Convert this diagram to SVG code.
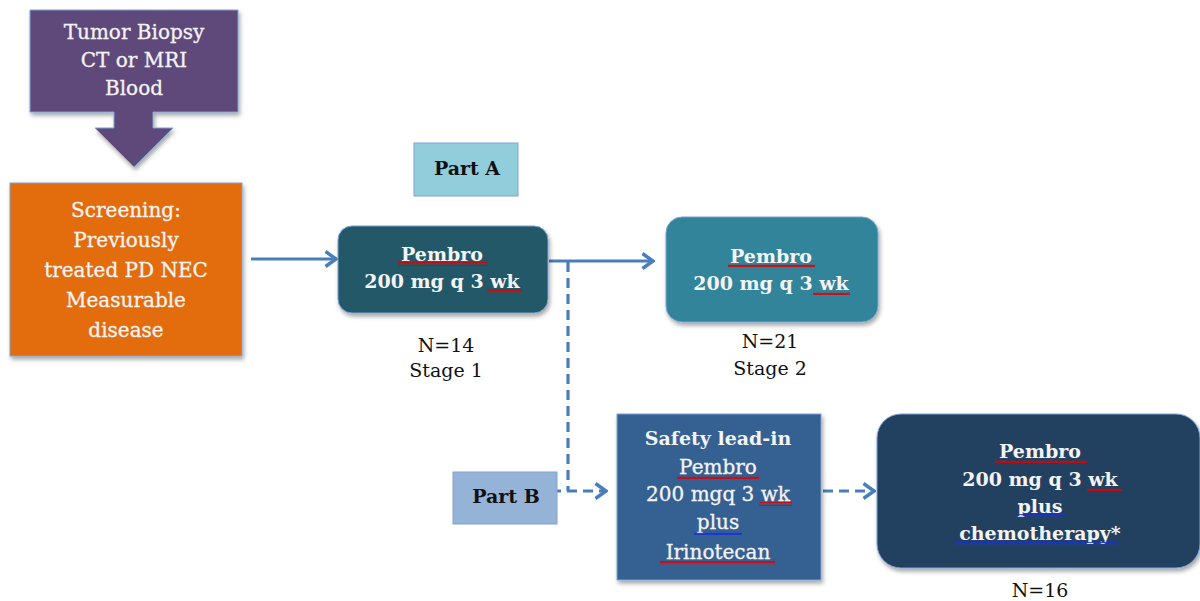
<svg xmlns="http://www.w3.org/2000/svg" width="1200" height="601" viewBox="0 0 1200 601">
<defs>
<filter id="sh" x="-10%" y="-10%" width="125%" height="130%">
<feDropShadow dx="1.5" dy="3" stdDeviation="2" flood-color="#000" flood-opacity="0.35"/>
</filter>
<marker id="arr" viewBox="0 0 14 18" refX="12" refY="9" markerWidth="14" markerHeight="18" markerUnits="userSpaceOnUse" orient="auto">
<path d="M1.5,1.5 L12,9 L1.5,16.5" fill="none" stroke="#4A7EBB" stroke-width="3.4"/>
</marker>
<pattern id="wr" width="4" height="4" patternUnits="userSpaceOnUse">
<path d="M0,3.2 L1,0.8 L2,3.2 L3,0.8 L4,3.2" fill="none" stroke="#E00000" stroke-width="1"/>
</pattern>
<pattern id="wb" width="4" height="4" patternUnits="userSpaceOnUse">
<path d="M0,3.2 L1,0.8 L2,3.2 L3,0.8 L4,3.2" fill="none" stroke="#1A2FD6" stroke-width="1"/>
</pattern>
</defs>
<style>
.t{font-family:"DejaVu Serif","Liberation Serif",serif;font-size:20px;fill:#F4F4F4;text-anchor:middle;stroke:#F4F4F4;stroke-width:0.3}
.b{font-family:"DejaVu Serif","Liberation Serif",serif;font-size:19px;font-weight:bold;fill:#F4F4F4;text-anchor:middle}
.k{font-family:"DejaVu Serif","Liberation Serif",serif;font-size:19px;font-weight:bold;fill:#111;text-anchor:middle}
.n{font-family:"DejaVu Serif","Liberation Serif",serif;font-size:19px;fill:#111;text-anchor:middle}
.bx{stroke:#7FA3D3;stroke-width:1;filter:url(#sh)}
.c{fill:none;stroke:#4A7EBB;stroke-width:3.2}
.d{fill:none;stroke:#4A7EBB;stroke-width:3.2;stroke-dasharray:10 6}
</style>
<rect width="1200" height="601" fill="#FFFFFF"/>

<g id="connectors">
<line class="c" x1="251" y1="259" x2="336" y2="259" marker-end="url(#arr)"/>
<line class="c" x1="549" y1="261" x2="653" y2="261" marker-end="url(#arr)"/>
<polyline class="d" points="568,262 568,491"/>
<line class="d" x1="551" y1="491" x2="606" y2="491" marker-end="url(#arr)"/>
<line class="d" x1="823" y1="491" x2="874" y2="491" marker-end="url(#arr)"/>
</g>

<g id="biopsy">
<path class="bx" d="M30,10 H238 V112 H153 V128 H173 L134,167 L95,128 H114 V112 H30 Z" fill="#5F497A"/>
<text class="t" x="134" y="39">Tumor Biopsy</text>
<text class="t" x="134" y="67">CT or MRI</text>
<text class="t" x="134" y="95">Blood</text>
</g>

<g id="screening">
<rect class="bx" x="10" y="183" width="232" height="173" fill="#E36C09"/>
<text class="t" x="126" y="217">Screening:</text>
<text class="t" x="126" y="247">Previously</text>
<text class="t" x="126" y="277">treated PD NEC</text>
<text class="t" x="126" y="307">Measurable</text>
<text class="t" x="126" y="337">disease</text>
</g>

<g id="partA">
<rect class="bx" x="414" y="143" width="104" height="53" fill="#92CDDC" style="filter:none"/>
<text class="k" x="467" y="175">Part A</text>
</g>

<g id="stage1">
<rect class="bx" x="338" y="226" width="210" height="87" rx="14" fill="#215867"/>
<text class="b" x="442" y="261">Pembro</text>
<text class="b" x="442" y="288">200 mg q 3 wk</text>
<rect x="398" y="262" width="90" height="4" fill="url(#wr)"/>
<rect x="487" y="289" width="35" height="4" fill="url(#wr)"/>
<text class="n" x="446" y="352">N=14</text>
<text class="n" x="446" y="377">Stage 1</text>
</g>

<g id="stage2">
<rect class="bx" x="666" y="217" width="212" height="105" rx="16" fill="#31849B"/>
<text class="b" x="771" y="263">Pembro</text>
<text class="b" x="771" y="290">200 mg q 3 wk</text>
<rect x="728" y="264" width="87" height="4" fill="url(#wr)"/>
<rect x="813" y="291" width="37" height="4" fill="url(#wr)"/>
<text class="n" x="770" y="348">N=21</text>
<text class="n" x="770" y="375">Stage 2</text>
</g>

<g id="partB">
<rect class="bx" x="453" y="472" width="104" height="52" fill="#95B3D7" style="filter:none"/>
<text class="k" x="506" y="503">Part B</text>
</g>

<g id="safety">
<rect class="bx" x="617" y="414" width="204" height="166" fill="#366092"/>
<text class="b" x="718" y="445">Safety lead-in</text>
<text class="t" x="718" y="474">Pembro</text>
<text class="t" x="718" y="501">200 mgq 3 wk</text>
<text class="t" x="718" y="529">plus</text>
<text class="t" x="718" y="559">Irinotecan</text>
<rect x="677" y="475" width="82" height="4" fill="url(#wr)"/>
<rect x="759" y="502" width="33" height="4" fill="url(#wr)"/>
<rect x="694" y="531" width="48" height="4" fill="url(#wb)"/>
<rect x="660" y="561" width="115" height="4" fill="url(#wr)"/>
</g>

<g id="combo">
<rect class="bx" x="877" y="414" width="323" height="154" rx="24" fill="#244061"/>
<text class="b" x="1040" y="458">Pembro</text>
<text class="b" x="1040" y="486">200 mg q 3 wk</text>
<text class="b" x="1040" y="513">plus</text>
<text class="b" x="1040" y="540">chemotherapy*</text>
<rect x="995" y="459" width="92" height="4" fill="url(#wr)"/>
<rect x="1087" y="487" width="35" height="4" fill="url(#wr)"/>
<rect x="1017" y="514" width="48" height="4" fill="url(#wb)"/>
<rect x="955" y="542" width="162" height="4" fill="url(#wb)"/>
<text class="n" x="1040" y="597">N=16</text>
</g>
</svg>
